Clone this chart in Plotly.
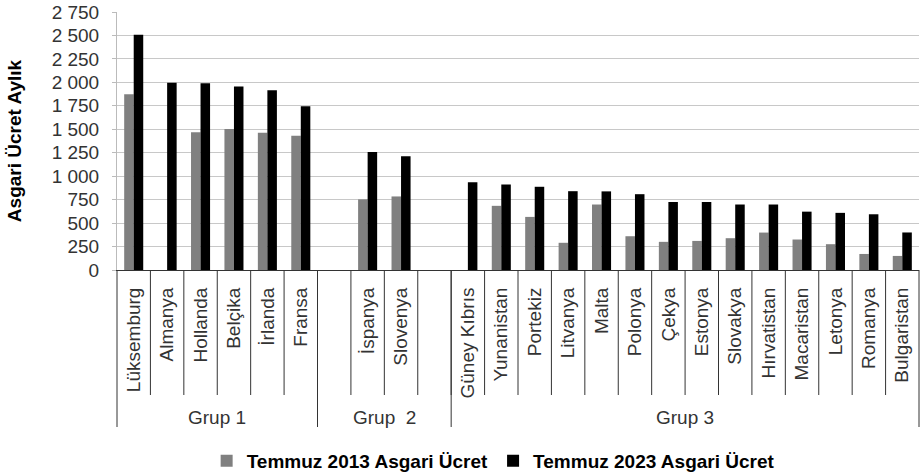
import plotly.graph_objects as go

# ---- data ----
countries = ["Lüksemburg", "Almanya", "Hollanda", "Belçika", "İrlanda", "Fransa",
             "", "İspanya", "Slovenya", "",
             "Güney Kıbrıs", "Yunanistan", "Portekiz", "Litvanya", "Malta", "Polonya",
             "Çekya", "Estonya", "Slovakya", "Hırvatistan", "Macaristan", "Letonya",
             "Romanya", "Bulgaristan"]
wage_2013 = [1874, None, 1469, 1502, 1462, 1430,
             None, 753, 784, None,
             None, 684, 566, 290, 698, 360,
             300, 310, 339, 399, 325, 275,
             171, 150]
wage_2023 = [2508, 1997, 1990, 1955, 1915, 1745,
             None, 1258, 1212, None,
             936, 912, 887, 840, 838, 808,
             725, 725, 698, 698, 622, 609,
             594, 400]
group_names = ["Grup 1", "Grup\u00a0\u00a02", "Grup 3"]
group_sizes = [6, 4, 14]
series_names = ["Temmuz 2013 Asgari Ücret", "Temmuz 2023 Asgari Ücret"]
y_title = "Asgari Ücret Aylık"

FONT = "Liberation Sans, Arial, sans-serif"
W, H = 924, 472
ML, MR, MT, MB = 117, 5, 12, 202
plot_h = H - MT - MB

x = list(range(len(countries)))
n = len(countries)

fig = go.Figure()
fig.add_trace(go.Bar(x=x, y=wage_2013, name=series_names[0], marker_color="#808080",
                     marker_line_width=0))
fig.add_trace(go.Bar(x=x, y=wage_2023, name=series_names[1], marker_color="#000000",
                     marker_line_width=0))

shapes = []
# inner slot separators
for i in range(1, n):
    shapes.append(dict(type="line", xref="paper", yref="paper",
                       x0=i / n, x1=i / n, y0=0, y1=-125 / plot_h,
                       line=dict(color="#333333", width=1)))
# group boundaries
bounds = [0]
for s in group_sizes:
    bounds.append(bounds[-1] + s)
for b in bounds:
    shapes.append(dict(type="line", xref="paper", yref="paper",
                       x0=b / n, x1=b / n, y0=0, y1=-157 / plot_h,
                       line=dict(color="#333333", width=1)))

annotations = []
for gi, g in enumerate(group_names):
    cx = (bounds[gi] + bounds[gi + 1]) / 2 / n
    annotations.append(dict(text=g, xref="paper", yref="paper", x=cx, y=-147 / plot_h,
                            showarrow=False, xanchor="center", yanchor="middle",
                            font=dict(family=FONT, size=19, color="#333333")))

fig.update_layout(
    width=W, height=H,
    margin=dict(l=ML, r=MR, t=MT, b=MB, pad=0, autoexpand=False),
    plot_bgcolor="white", paper_bgcolor="white",
    barmode="group", bargap=0.43, bargroupgap=0,
    separators=". ",
    font=dict(family=FONT, size=18, color="#333333"),
    shapes=shapes, annotations=annotations,
    showlegend=True,
    legend=dict(orientation="h", x=0.469, xanchor="center", y=-191 / plot_h, yanchor="middle",
                font=dict(family=FONT, size=19, color="#000000", weight="bold"),
                itemsizing="constant", traceorder="normal", itemwidth=30),
    xaxis=dict(range=[-0.5, n - 0.5], tickmode="array", tickvals=x, ticktext=countries,
               tickangle=-90, ticks="", showgrid=False, zeroline=False,
               showline=True, linecolor="#333333", linewidth=1,
               ticklabelstandoff=9, automargin=False, ticklabeloverflow="allow",
               tickfont=dict(family=FONT, size=19, color="#333333")),
    yaxis=dict(range=[0, 2750], dtick=250, tick0=0, separatethousands=True,
               showgrid=True, gridcolor="#c8c8c8", gridwidth=1,
               zeroline=False, showline=True, linecolor="#bbbbbb", linewidth=1,
               ticks="outside", ticklen=4, tickcolor="#bbbbbb",
               ticklabelstandoff=9, automargin=False, ticklabeloverflow="allow",
               tickfont=dict(family=FONT, size=19, color="#333333"),
               title=dict(text=y_title, standoff=25,
                          font=dict(family=FONT, size=19, color="#000000", weight="bold"))),
)

fig.write_html("out.html", config={"displayModeBar": False},
               post_script="document.body.style.margin='0';document.body.style.padding='0';")
